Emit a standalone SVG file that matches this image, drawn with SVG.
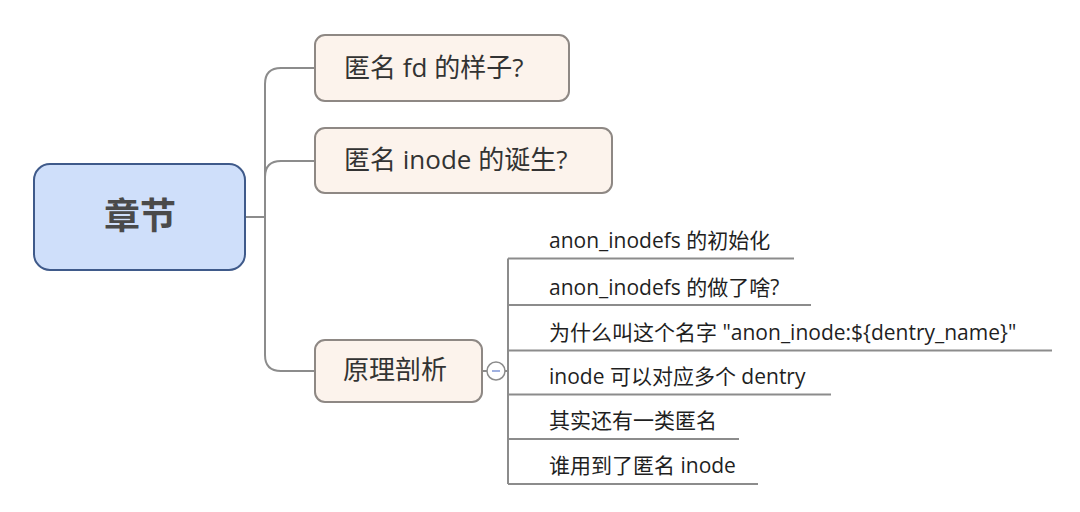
<svg xmlns="http://www.w3.org/2000/svg" width="1080" height="512" viewBox="0 0 1080 512">
<style>
  text { font-family: "Open Sans", "Noto Sans CJK SC", sans-serif; fill: #1f1f1f; }
  .root rect { fill: #cfdffa; stroke: #3f5a8a; stroke-width: 2; }
  .root text { font-size: 36px; font-weight: bold; fill: #4a4a4a; text-anchor: middle; }
  .branch rect { fill: #fcf3ec; stroke: #8e8884; stroke-width: 2; }
  .branch text { font-size: 26px; fill: #333; }
  .leaf text { font-size: 21px; }
  .conn path, .conn line { fill: none; stroke: #8c8c8c; stroke-width: 2; }
</style>
<rect width="1080" height="512" fill="#ffffff"/>
<g class="conn" id="connectors">
  <path d="M245,217 H265"/>
  <path d="M315,68 H281 Q265,68 265,84 V355 Q265,371 281,371 H315"/>
  <path d="M315,161 H281 Q265,161 265,177"/>
  <path d="M482,371 H487"/>
  <path d="M505,371 H508"/>
  <path d="M508,258.5 V484"/>
  <path d="M508,258.5 H794"/>
  <path d="M508,305 H811"/>
  <path d="M508,350.5 H1052"/>
  <path d="M508,394.5 H831"/>
  <path d="M508,439 H739"/>
  <path d="M508,484 H758"/>
</g>
<g id="root" class="root">
  <rect x="34" y="164" width="211" height="106" rx="16"/>
  <text x="140" y="229">章节</text>
</g>
<g id="b1" class="branch">
  <rect x="315" y="35" width="254" height="66" rx="10"/>
  <text x="344" y="77">匿名 fd 的样子?</text>
</g>
<g id="b2" class="branch">
  <rect x="315" y="128" width="297" height="65" rx="10"/>
  <text x="344" y="169">匿名 inode 的诞生?</text>
</g>
<g id="b3" class="branch">
  <rect x="315" y="340" width="167" height="62" rx="10"/>
  <text x="343" y="379">原理剖析</text>
</g>
<g id="collapse">
  <circle cx="496" cy="371" r="9" fill="#ffffff" stroke="#8c8c8c" stroke-width="1.5"/>
  <line x1="492" y1="371" x2="500" y2="371" stroke="#7f96d6" stroke-width="1.5"/>
</g>
<g id="l1" class="leaf"><text x="549" y="248">anon_inodefs 的初始化</text></g>
<g id="l2" class="leaf"><text x="549" y="295">anon_inodefs 的做了啥?</text></g>
<g id="l3" class="leaf"><text x="549" y="340">为什么叫这个名字 "anon_inode:${dentry_name}"</text></g>
<g id="l4" class="leaf"><text x="549" y="384">inode 可以对应多个 dentry</text></g>
<g id="l5" class="leaf"><text x="549" y="428">其实还有一类匿名</text></g>
<g id="l6" class="leaf"><text x="549" y="473">谁用到了匿名 inode</text></g>
</svg>
